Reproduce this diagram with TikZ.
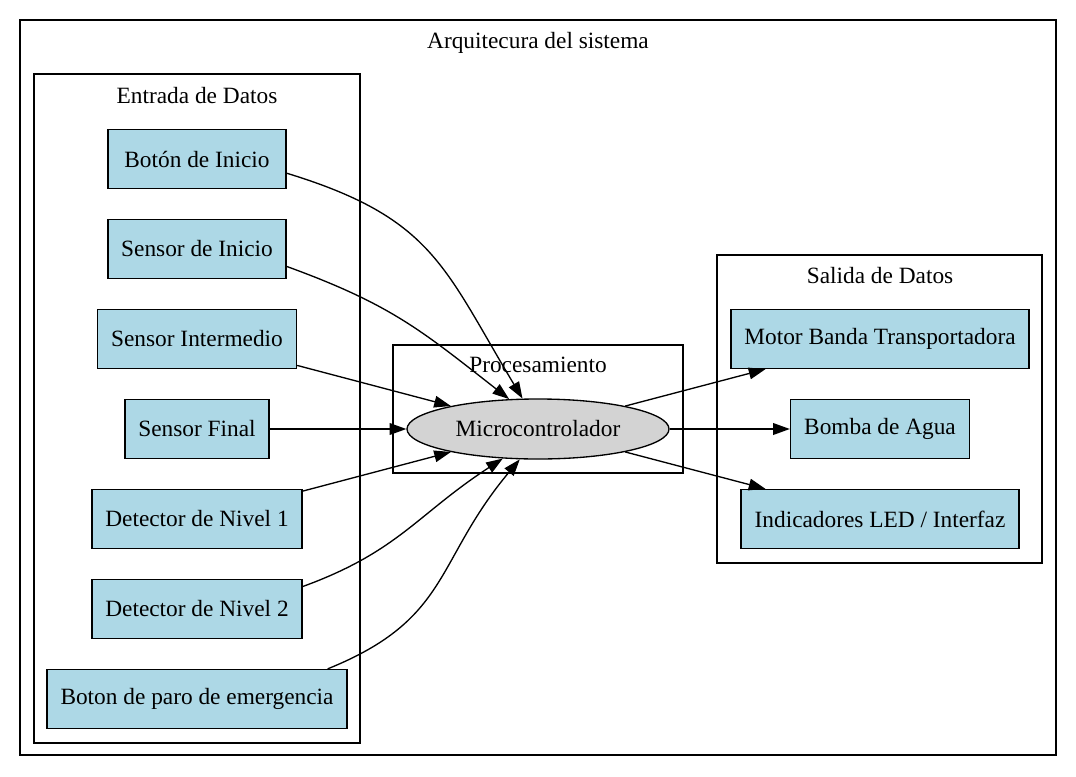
\documentclass[tikz,border=0pt]{standalone}
\usepackage{fontspec}
\setmainfont{Liberation Serif}
\usetikzlibrary{shapes.geometric, arrows.meta}
\definecolor{azulclaro}{HTML}{ADD8E6}
\definecolor{grisclaro}{HTML}{D3D3D3}

\begin{document}
\begin{tikzpicture}[x=0.6pt, y=0.6pt,
    every node/.style={font=\fontsize{14}{17}\selectfont},
    caja/.style={draw, fill=azulclaro, minimum height=35.4pt, inner sep=0pt, line width=0.8pt},
    grupo/.style={draw, line width=0.8pt},
    titulo/.style={anchor=base},
    flecha/.style={-{Triangle[length=10pt,width=7pt]}, line width=0.8pt}]
  \useasboundingbox[fill=white] (0,0) rectangle (1076,776);
  \draw[grupo] (20,756) rectangle (1056,21);
  \draw[grupo] (34,702) rectangle (360,33);
  \draw[grupo] (393,431) rectangle (683,303);
  \draw[grupo] (717,521) rectangle (1042,213);
  \node[titulo] (tsistema) at (538,727) {Arquitecura del sistema};
  \node[titulo] (tentrada) at (197,672) {Entrada de Datos};
  \node[titulo] (tproc) at (538,404) {Procesamiento};
  \node[titulo] (tsalida) at (880,493) {Salida de Datos};

  \node[caja, minimum width=106.8pt] (boton) at (197,617) {Botón de Inicio};
  \node[caja, minimum width=106.8pt] (sini) at (197,527) {Sensor de Inicio};
  \node[caja, minimum width=119.4pt] (sint) at (197,437) {Sensor Intermedio};
  \node[caja, minimum width=86.4pt] (sfin) at (197,347) {Sensor Final};
  \node[caja, minimum width=126pt] (det1) at (197,257) {Detector de Nivel 1};
  \node[caja, minimum width=126pt] (det2) at (197,167) {Detector de Nivel 2};
  \node[caja, minimum width=180pt] (paro) at (197,77) {Boton de paro de emergencia};

  \node[ellipse, draw, fill=grisclaro, line width=0.8pt, minimum width=157.2pt,
    minimum height=36pt, inner sep=0pt] (micro) at (538,347) {Microcontrolador};

  \node[caja, minimum width=178.8pt] (motor) at (880,437) {Motor Banda Transportadora};
  \node[caja, minimum width=107.4pt] (bomba) at (880,347) {Bomba de Agua};
  \node[caja, minimum width=166.8pt] (leds) at (880,257) {Indicadores LED / Interfaz};

  \draw[flecha] (boton.-9) to[out=-17, in=121, looseness=1.2] (micro.117);
  \draw[flecha] (sini.-11) to[out=-20, in=142, looseness=1.1] (micro.134);
  \draw[flecha] (sint) -- (micro);
  \draw[flecha] (sfin) -- (micro);
  \draw[flecha] (det1) -- (micro);
  \draw[flecha] (det2.12) to[out=20, in=-147, looseness=1.1] (micro.-140);
  \draw[flecha] (paro.13) to[out=22, in=-130, looseness=1.2] (micro.-121);
  \draw[flecha] (micro) -- (motor);
  \draw[flecha] (micro) -- (bomba);
  \draw[flecha] (micro) -- (leds);
\end{tikzpicture}
\end{document}
